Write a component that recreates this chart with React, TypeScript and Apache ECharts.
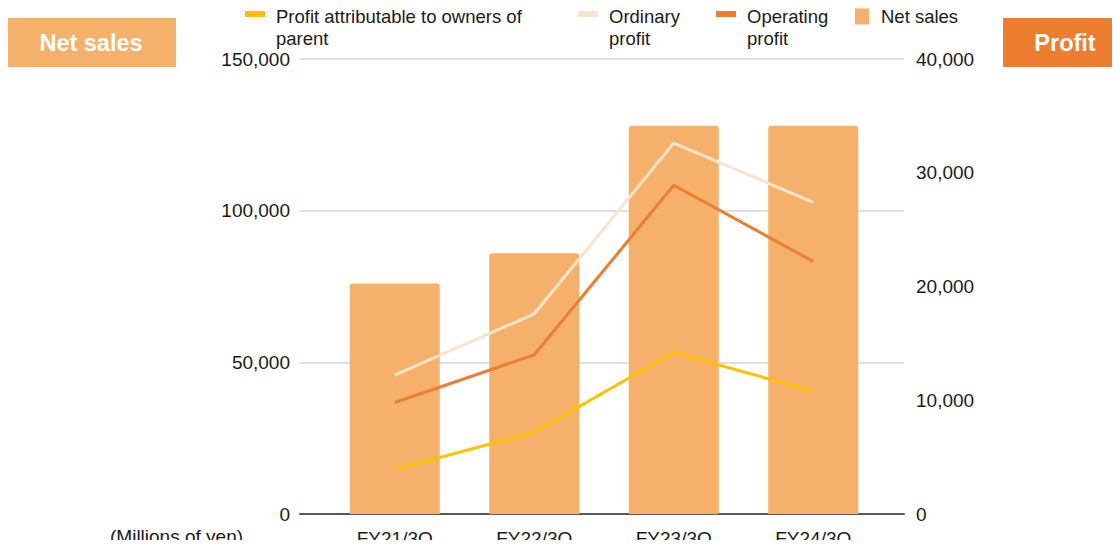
import React, { useEffect, useRef } from "react";
import * as echarts from "echarts";

const categories = ["FY21/3Q", "FY22/3Q", "FY23/3Q", "FY24/3Q"];
const netSales = [76000, 86000, 128000, 128000];
const ordinaryProfit = [12200, 17600, 32600, 27400];
const operatingProfit = [9800, 14000, 28900, 22200];
const profitOwners = [3900, 7200, 14200, 10800];

const seriesNames = {
  owners: "Profit attributable to owners of parent",
  ordinary: "Ordinary profit",
  operating: "Operating profit",
  sales: "Net sales",
};
const legendLines: Record<string, string[]> = {
  "Profit attributable to owners of parent": ["Profit attributable to owners of", "parent"],
  "Ordinary profit": ["Ordinary", "profit"],
  "Operating profit": ["Operating", "profit"],
  "Net sales": ["Net sales"],
};

const leftMax = 150000;
const leftInterval = 50000;
const rightMax = 40000;
const rightInterval = 10000;

const FONT = "'Liberation Sans', Arial, sans-serif";
const TEXT = "#1a1a1a";
const C_SALES = "#F5B16B";
const C_OPER = "#ED7D31";
const C_ORD = "#FBE4CC";
const C_OWN = "#FFC000";

export default function App() {
  const ref = useRef<HTMLDivElement>(null);
  useEffect(() => {
    if (!ref.current) return;
    const chart = echarts.init(ref.current, undefined, { renderer: "svg" });
    const richText = {
      s: { lineHeight: 26, fontSize: 10 },
      t: { fontFamily: FONT, fontSize: 18.5, lineHeight: 22, color: TEXT, padding: [0, 0, 0, 6] },
    };
    const lineLegend = (name: string, left: number) => ({
      data: [{ name, icon: "rect" }],
      left,
      top: -13,
      padding: 0,
      itemWidth: 20,
      itemHeight: 6,
      selectedMode: false,
      formatter: (n: string) =>
        ["{s| }"].concat((legendLines[n] ?? [n]).map((l) => `{t|${l}}`)).join("\n"),
      textStyle: { fontFamily: FONT, fontSize: 18.5, color: TEXT, rich: richText },
    });
    chart.setOption({
      animation: false,
      grid: [
        { left: 300, right: 216, top: 59, bottom: 34 },
        { left: 325, right: 237, top: 59, bottom: 34 },
      ],
      legend: [
        lineLegend(seriesNames.owners, 245),
        lineLegend(seriesNames.ordinary, 578),
        lineLegend(seriesNames.operating, 716),
        {
          data: [{ name: seriesNames.sales, icon: "rect" }],
          left: 855,
          top: 7,
          padding: 0,
          itemWidth: 14,
          itemHeight: 16,
          selectedMode: false,
          formatter: (n: string) => `{t|${n}}`,
          textStyle: {
            fontFamily: FONT,
            fontSize: 18.5,
            color: TEXT,
            rich: { t: { fontFamily: FONT, fontSize: 18.5, lineHeight: 22, color: TEXT, padding: [0, 0, 0, 7] } },
          },
        },
      ],
      xAxis: [
        {
          type: "value",
          gridIndex: 0,
          min: 0,
          max: 1,
          axisLine: { show: true, lineStyle: { color: "#595959", width: 2 } },
          axisTick: { show: false },
          axisLabel: { show: false },
          splitLine: { show: false },
        },
        {
          type: "category",
          gridIndex: 1,
          data: categories,
          axisLine: { show: false },
          axisTick: { show: false },
          axisLabel: { fontFamily: FONT, fontSize: 19, color: TEXT, margin: 15 },
        },
      ],
      yAxis: [
        {
          type: "value",
          gridIndex: 0,
          min: 0,
          max: leftMax,
          interval: leftInterval,
          axisLine: { show: false },
          axisTick: { show: false },
          axisLabel: {
            fontFamily: FONT,
            fontSize: 19,
            color: TEXT,
            margin: 10,
            formatter: (v: number) => v.toLocaleString("en-US"),
          },
          splitLine: { lineStyle: { color: "#d4d4d4", width: 1.5 } },
        },
        {
          type: "value",
          gridIndex: 0,
          position: "right",
          min: 0,
          max: rightMax,
          interval: rightInterval,
          axisLine: { show: false },
          axisTick: { show: false },
          axisLabel: {
            fontFamily: FONT,
            fontSize: 19,
            color: TEXT,
            margin: 12,
            formatter: (v: number) => v.toLocaleString("en-US"),
          },
          splitLine: { show: false },
        },
        { type: "value", gridIndex: 1, min: 0, max: leftMax, show: false },
        { type: "value", gridIndex: 1, min: 0, max: rightMax, show: false, position: "right" },
      ],
      series: [
        {
          name: seriesNames.sales,
          type: "bar",
          xAxisIndex: 1,
          yAxisIndex: 2,
          data: netSales,
          barWidth: 90,
          itemStyle: { color: C_SALES, borderRadius: [3, 3, 0, 0] },
        },
        {
          name: seriesNames.ordinary,
          type: "line",
          xAxisIndex: 1,
          yAxisIndex: 3,
          data: ordinaryProfit,
          showSymbol: false,
          lineStyle: { color: C_ORD, width: 3 },
          itemStyle: { color: C_ORD },
        },
        {
          name: seriesNames.operating,
          type: "line",
          xAxisIndex: 1,
          yAxisIndex: 3,
          data: operatingProfit,
          showSymbol: false,
          lineStyle: { color: C_OPER, width: 3 },
          itemStyle: { color: C_OPER },
        },
        {
          name: seriesNames.owners,
          type: "line",
          xAxisIndex: 1,
          yAxisIndex: 3,
          data: profitOwners,
          showSymbol: false,
          lineStyle: { color: C_OWN, width: 3 },
          itemStyle: { color: C_OWN },
        },
      ],
      graphic: [
        {
          type: "group",
          left: 6,
          top: 18,
          children: [
            { type: "rect", shape: { x: 0, y: 0, width: 170, height: 49 }, style: { fill: C_SALES } },
            {
              type: "text",
              x: 85,
              y: 25,
              style: {
                text: "Net sales",
                fill: "#fff",
                font: `bold 23.5px ${FONT}`,
                align: "center",
                verticalAlign: "middle",
              },
            },
          ],
        },
        {
          type: "group",
          left: 1003,
          top: 18,
          children: [
            { type: "rect", shape: { x: 0, y: 0, width: 117, height: 49 }, style: { fill: C_OPER } },
            {
              type: "text",
              x: 62,
              y: 25,
              style: {
                text: "Profit",
                fill: "#fff",
                font: `bold 23.5px ${FONT}`,
                align: "center",
                verticalAlign: "middle",
              },
            },
          ],
        },
        {
          type: "text",
          left: 110,
          top: 527,
          style: { text: "(Millions of yen)", fill: TEXT, font: `19px ${FONT}` },
        },
      ],
    });
    return () => chart.dispose();
  }, []);
  return <div ref={ref} style={{ width: 1120, height: 548, margin: -8 }} />;
}
